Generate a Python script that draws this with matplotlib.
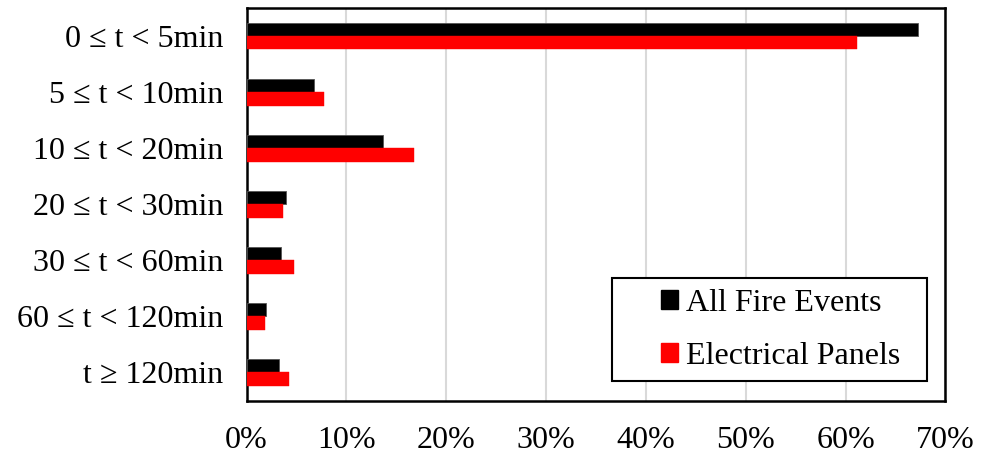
import matplotlib
matplotlib.use("Agg")
import matplotlib.pyplot as plt
import matplotlib.patches as mpatches
import numpy as np

# Duration of fire events, share of events per time bin
categories = ["0 ≤ t < 5min", "5 ≤ t < 10min", "10 ≤ t < 20min", "20 ≤ t < 30min",
              "30 ≤ t < 60min", "60 ≤ t < 120min", "t ≥ 120min"]
all_fire = [67.2, 6.8, 13.7, 4.0, 3.45, 1.95, 3.25]
panels = [61.1, 7.8, 16.8, 3.65, 4.8, 1.85, 4.25]
xticks = [0, 10, 20, 30, 40, 50, 60, 70]

plt.rcParams['font.family'] = ['Liberation Serif', 'DejaVu Serif']
fs = 23

fig = plt.figure(figsize=(9.81, 4.54), dpi=100)
ax = fig.add_axes([0.2513, 0.1178, 0.7125, 0.8646])

y = np.arange(len(categories))
h = 0.24
ax.barh(y - h / 2, all_fire, height=h, color="black", edgecolor="#555555", linewidth=0.6,
        label="All Fire Events", zorder=3)
ax.barh(y + h / 2, panels, height=h, color="#ff0000", edgecolor="#ff0000", linewidth=0.3,
        label="Electrical Panels", zorder=3)

ax.set_ylim(len(categories) - 0.5, -0.5)
ax.set_xlim(0, 70)
ax.set_yticks(y)
ax.set_yticklabels(categories, fontsize=fs)
ax.set_xticks(xticks)
ax.set_xticklabels([f"{v}%" for v in xticks], fontsize=fs)
ax.tick_params(axis="both", length=0)
ax.tick_params(axis="y", pad=17)
ax.tick_params(axis="x", pad=18)

ax.grid(axis="x", color="#d9d9d9", linewidth=1.5, zorder=0)
ax.set_axisbelow(True)
for s in ax.spines.values():
    s.set_color("black")
    s.set_linewidth(1.8)

# legend box drawn separately so it can be wider than the entries
box = mpatches.Rectangle((0.523, 0.0497), 0.4505, 0.2623, transform=ax.transAxes,
                         facecolor="white", edgecolor="black", linewidth=1.5, zorder=4)
ax.add_patch(box)

handles = [mpatches.Patch(color="black"), mpatches.Patch(color="#ff0000")]
leg = ax.legend(handles, ["All Fire Events", "Electrical Panels"], loc="center left",
                bbox_to_anchor=(0.593, 0.18), fontsize=fs, frameon=False,
                handlelength=0.53, handleheight=0.53, handletextpad=0.25,
                labelspacing=0.75, borderpad=0, borderaxespad=0)
leg.set_zorder(5)

fig.savefig("out.png", dpi=100)
